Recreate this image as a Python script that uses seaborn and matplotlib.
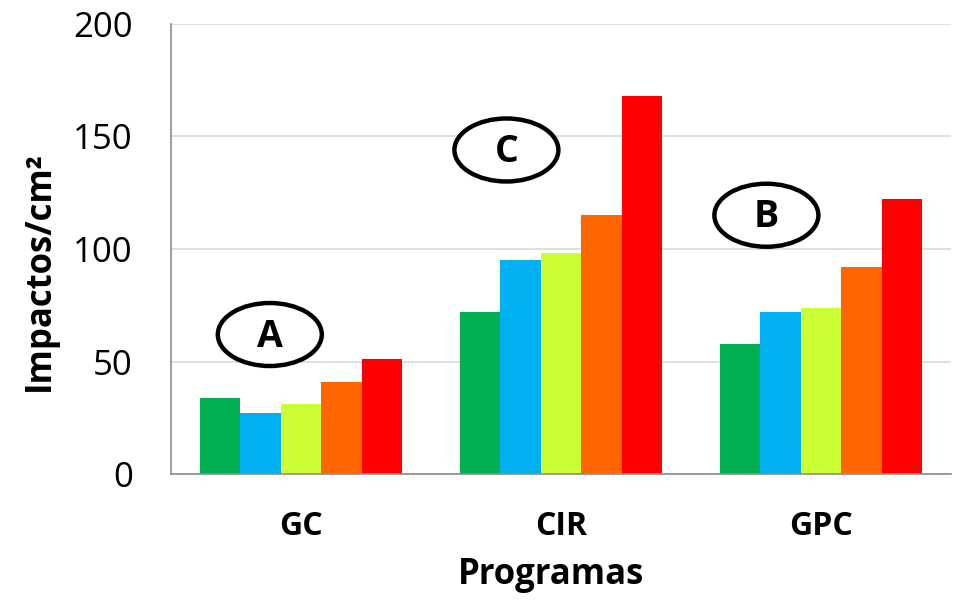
import pandas as pd
import numpy as np
import matplotlib
matplotlib.use('Agg')
import matplotlib.pyplot as plt
import seaborn as sns
from matplotlib.patches import Ellipse

# --- DATA ---
programas = ['GC', 'CIR', 'GPC']
series = ['S1', 'S2', 'S3', 'S4', 'S5']
vals_s1 = [34, 72, 58]
vals_s2 = [27, 95, 72]
vals_s3 = [31, 98, 74]
vals_s4 = [41, 115, 92]
vals_s5 = [51, 168, 122]
group_letters = ['A', 'C', 'B']

# Colors
COLORS = ['#00B050', '#00B0F0', '#CCFF33', '#FF6600', '#FF0000']

rows = []
for s, vals in zip(series, [vals_s1, vals_s2, vals_s3, vals_s4, vals_s5]):
    for p, v in zip(programas, vals):
        rows.append({'Programa': p, 'Serie': s, 'Impactos': v})
df = pd.DataFrame(rows)

sns.set_style('white')
plt.rcParams['font.family'] = ['Open Sans', 'DejaVu Sans']
plt.rcParams['text.color'] = 'black'
plt.rcParams['axes.labelcolor'] = 'black'
plt.rcParams['xtick.color'] = 'black'
plt.rcParams['ytick.color'] = 'black'

fig = plt.figure(figsize=(9.57, 6.04), dpi=100)
ax = fig.add_axes([0.1787, 0.2152, 0.815, 0.7451])

sns.barplot(data=df, x='Programa', y='Impactos', hue='Serie', order=programas,
            hue_order=series, palette=COLORS, width=0.78, saturation=1,
            errorbar=None, legend=False, linewidth=0, ax=ax)

ax.set_ylim(0, 200)
ax.set_xlim(-0.5, 2.5)
ax.set_yticks([0, 50, 100, 150, 200])
ax.yaxis.grid(True, color='#d9d9d9', linewidth=1.2)
ax.set_axisbelow(True)
for s in ['top', 'right']:
    ax.spines[s].set_visible(False)
for s in ['left', 'bottom']:
    ax.spines[s].set_color('#8c8c8c')
    ax.spines[s].set_linewidth(1.2)
ax.tick_params(axis='y', length=9.5, width=1.2, color='#8c8c8c', labelcolor='black',
               labelsize=25, pad=18)
ax.tick_params(axis='x', length=0, labelsize=23, labelcolor='black', pad=26)
for lbl in ax.get_xticklabels():
    lbl.set_fontweight('bold')

ax.set_ylabel('Impactos/cm²', fontsize=25, fontweight='bold', color='black')
ax.yaxis.set_label_coords(-0.145, 0.45)
ax.set_xlabel('Programas', fontsize=25, fontweight='bold', color='black')
ax.xaxis.set_label_coords(0.487, -0.185)

# letter ellipses above groups
ell_x = [-0.12, 0.79, 1.79]
ell_y = [62, 144, 115]
for x, y, letter in zip(ell_x, ell_y, group_letters):
    ax.add_patch(Ellipse((x, y), 0.4, 28, facecolor='white', edgecolor='black',
                         linewidth=3.2, zorder=5, clip_on=False))
    ax.text(x, y - 1, letter, ha='center', va='center', fontsize=27,
            fontweight='bold', color='black', zorder=6)

plt.savefig('out.png', dpi=100)
